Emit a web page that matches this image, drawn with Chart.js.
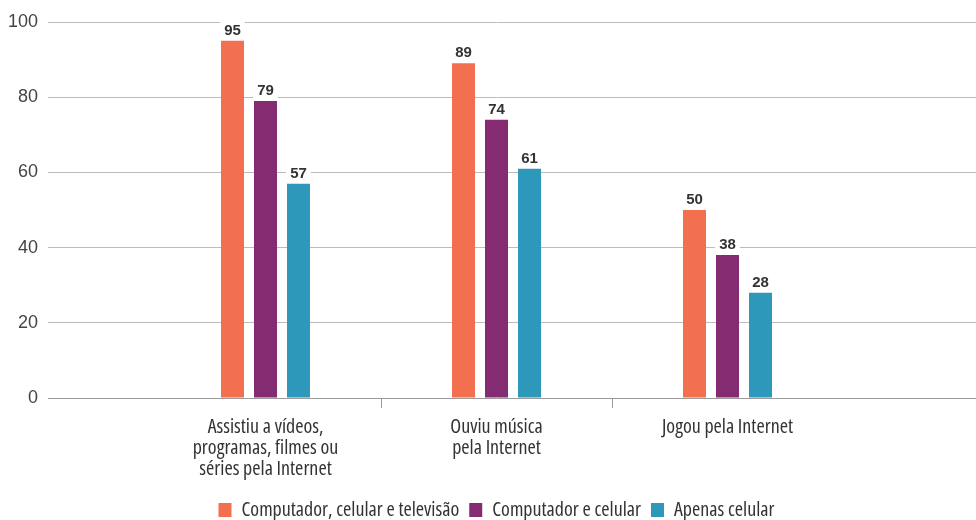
<!DOCTYPE html>
<html>
<head>
<meta charset="utf-8">
<script src="https://cdn.jsdelivr.net/npm/chart.js@4.4.1/dist/chart.umd.min.js"></script>
<style>
  html, body { margin: 0; padding: 0; background: #fff; }
  #wrap { width: 976px; height: 520px; }
</style>
</head>
<body>
<div id="wrap"><canvas id="graphique"></canvas></div>
<script>
// Catégories (libellés sur plusieurs lignes)
const categories = [
    ["Assistiu a vídeos,", "programas, filmes ou", "séries pela Internet"],
    ["Ouviu música", "pela Internet"],
    ["Jogou pela Internet"]
];

// Séries
const computadorCelularTv = [95, 89, 50];
const computadorCelular = [79, 74, 38];
const apenasCelular = [57, 61, 28];

// Open Sans en largeur condensée (police variable)
const condense = "'Open Sans', sans-serif";
const texte = "#333333";

// Étiquettes de valeur au-dessus des barres, fond blanc
const etiquettes = {
    id: "etiquettes",
    afterDatasetsDraw(chart) {
        const ctx = chart.ctx;
        ctx.save();
        ctx.font = "bold 15px 'Liberation Sans', sans-serif";
        ctx.textAlign = "center";
        ctx.textBaseline = "alphabetic";
        chart.data.datasets.forEach((ds, i) => {
            const meta = chart.getDatasetMeta(i);
            meta.data.forEach((bar, j) => {
                const txt = String(ds.data[j]);
                const w = ctx.measureText(txt).width;
                const base = bar.y - 6;
                ctx.fillStyle = "#ffffff";
                ctx.fillRect(bar.x - w / 2 - 4, base - 14, w + 8, 18);
                ctx.fillStyle = texte;
                ctx.fillText(txt, bar.x, base);
            });
        });
        ctx.restore();
    }
};

const couleurGrille = (ctx) => (ctx.tick && ctx.tick.value === 0) ? "#9a9a9a" : "#bcbcbc";

const config = {
    type: "bar",
    data: {
        labels: categories,
        datasets: [
            { label: "Computador, celular e televisão", data: computadorCelularTv, backgroundColor: "#F2704F" },
            { label: "Computador e celular", data: computadorCelular, backgroundColor: "#842B71" },
            { label: "Apenas celular", data: apenasCelular, backgroundColor: "#2E98BA" }
        ]
    },
    options: {
        responsive: true,
        maintainAspectRatio: false,
        animation: false,
        categoryPercentage: 0.4286,
        barPercentage: 0.697,
        layout: { padding: { top: 22, left: 0, right: 0, bottom: -10 } },
        plugins: {
            tooltip: { enabled: false },
            legend: {
                position: "bottom",
                fullSize: false,
                labels: {
                    boxWidth: 13,
                    boxHeight: 14,
                    padding: 10,
                    color: texte,
                    font: { family: condense, weight: "normal condensed", size: 20 }
                }
            }
        },
        scales: {
            x: {
                border: { display: false },
                grid: {
                    offset: true,
                    drawOnChartArea: false,
                    tickLength: 10,
                    color: (ctx) => (ctx.index > 0 && ctx.index < categories.length) ? "#9a9a9a" : "rgba(0,0,0,0)"
                },
                ticks: {
                    color: texte,
                    padding: 9,
                    font: { family: condense, weight: "normal condensed", size: 20, lineHeight: "21px" }
                },
                afterFit(scale) { scale.height = 92; }
            },
            y: {
                min: 0,
                max: 100,
                border: { display: false },
                grid: { color: couleurGrille, tickLength: 102 },
                ticks: {
                    stepSize: 20,
                    padding: 10,
                    color: "#444444",
                    font: { family: "'Liberation Sans', sans-serif", size: 18 }
                },
                afterFit(scale) { scale.width = 150; }
            },
            y2: {
                position: "right",
                min: 0,
                max: 100,
                border: { display: false },
                grid: { color: couleurGrille, tickLength: 133, drawOnChartArea: false },
                ticks: { stepSize: 20, display: false },
                afterFit(scale) { scale.width = 133; }
            }
        }
    },
    plugins: [etiquettes]
};

new Chart(document.querySelector("#graphique"), config);
</script>
</body>
</html>
